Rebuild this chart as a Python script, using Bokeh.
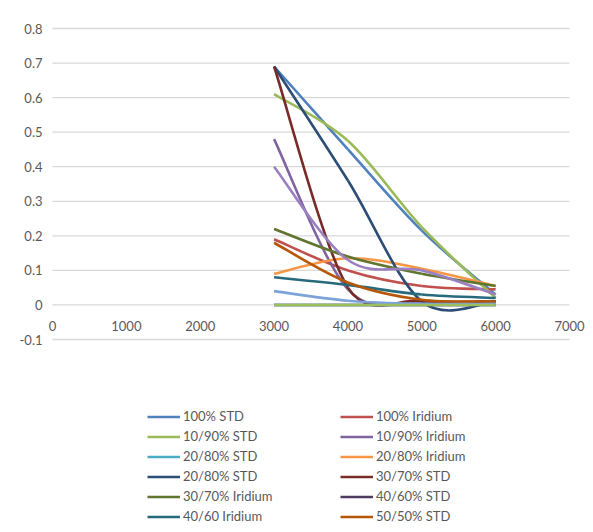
import math
from bokeh.plotting import figure
from bokeh.models import Legend, LegendItem, ColumnDataSource, Range1d
from bokeh.core.properties import value
from bokeh.embed import file_html
from bokeh.resources import INLINE

# ---- data ----
x_vals = [3000, 4000, 5000, 6000]

std_100 = [0.69, 0.45, 0.215, 0.03]
iridium_100 = [0.19, 0.10, 0.055, 0.045]
std_10_90 = [0.61, 0.475, 0.225, 0.02]
iridium_10_90 = [0.48, 0.045, 0.008, 0.008]
std_20_80_a = [0.0, 0.0, 0.0, 0.0]
iridium_20_80 = [0.09, 0.135, 0.105, 0.055]
std_20_80_b = [0.69, 0.36, 0.01, 0.01]
std_30_70 = [0.69, 0.05, 0.012, 0.01]
iridium_30_70 = [0.22, 0.14, 0.09, 0.055]
std_40_60 = [0.0, 0.0, 0.0, 0.0]
iridium_40_60 = [0.08, 0.058, 0.03, 0.02]
std_50_50 = [0.18, 0.065, 0.015, 0.01]
series_13 = [0.04, 0.012, 0.003, 0.003]
series_15 = [0.0, 0.0, 0.0, 0.0]
series_16 = [0.40, 0.13, 0.10, 0.03]

names = ["100% STD", "100% Iridium", "10/90% STD", "10/90% Iridium",
         "20/80% STD", "20/80% Iridium", "20/80% STD", "30/70% STD",
         "30/70% Iridium", "40/60% STD", "40/60 Iridium", "50/50% STD",
         None, None, None]
series = [std_100, iridium_100, std_10_90, iridium_10_90, std_20_80_a,
          iridium_20_80, std_20_80_b, std_30_70, iridium_30_70, std_40_60,
          iridium_40_60, std_50_50, series_13, series_15, series_16]
colors = ["#4F81BD", "#C0504D", "#9BBB59", "#8064A2", "#4BACC6", "#F79646",
          "#2C4D75", "#772C2A", "#5F7530", "#4D3B62", "#276A7C", "#B65708",
          "#7CA3D8", "#9BBF5F", "#9A80C0"]

x_ticks = [0, 1000, 2000, 3000, 4000, 5000, 6000, 7000]
x_tick_labels = ["0", "1000", "2000", "3000", "4000", "5000", "6000", "7000"]
y_ticks = [-0.1, 0, 0.1, 0.2, 0.3, 0.4, 0.5, 0.6, 0.7, 0.8]
y_tick_labels = ["-0.1", "0", "0.1", "0.2", "0.3", "0.4", "0.5", "0.6",
                 "0.7", "0.8"]

FONT = "Lato"
FSIZE = "13px"
TXT = "#595959"

# ---- layout (pixels) ----
W, H = 585, 524
PX_L, PX_R = 52, 569        # x = 0 .. 7000
PX_T, PX_B = 28, 339        # y = 0.8 .. -0.1
XMIN, XMAX = x_ticks[0], x_ticks[-1]
YMIN, YMAX = y_ticks[0], y_ticks[-1]
sx = (XMAX - XMIN) / (PX_R - PX_L)
sy = (YMAX - YMIN) / (PX_B - PX_T)
x_range = Range1d(XMIN - PX_L * sx, XMAX + (W - PX_R) * sx)
y_range = Range1d(YMIN - (H - PX_B) * sy, YMAX + PX_T * sy)


def smooth_segments(xs, ys):
    """Excel-like smoothed line: Bezier segments, arm capped at half chord."""
    n = len(xs)

    def plen(dx, dy):
        return math.hypot(dx / sx, dy / sy)

    d = dict(x0=[], y0=[], x1=[], y1=[], cx0=[], cy0=[], cx1=[], cy1=[])
    for i in range(n - 1):
        a = i - 1 if i > 0 else i
        b = i + 2 if i + 2 < n else i + 1
        chord = plen(xs[i + 1] - xs[i], ys[i + 1] - ys[i])
        vx, vy = xs[i + 1] - xs[a], ys[i + 1] - ys[a]
        L = plen(vx, vy)
        f = 1 / 6.0
        if L > 0 and L / 6.0 > chord / 2.0:
            f = (chord / 2.0) / L
        cx0, cy0 = xs[i] + vx * f, ys[i] + vy * f
        vx, vy = xs[b] - xs[i], ys[b] - ys[i]
        L = plen(vx, vy)
        f = 1 / 6.0
        if L > 0 and L / 6.0 > chord / 2.0:
            f = (chord / 2.0) / L
        cx1, cy1 = xs[i + 1] - vx * f, ys[i + 1] - vy * f
        d["x0"].append(xs[i]); d["y0"].append(ys[i])
        d["x1"].append(xs[i + 1]); d["y1"].append(ys[i + 1])
        d["cx0"].append(cx0); d["cy0"].append(cy0)
        d["cx1"].append(cx1); d["cy1"].append(cy1)
    return d


p = figure(width=W, height=H, output_backend="svg", toolbar_location=None,
           x_range=x_range, y_range=y_range,
           x_axis_location=None, y_axis_location=None, min_border=0)
p.outline_line_color = None
p.background_fill_color = "white"
p.border_fill_color = "white"
p.grid.visible = False

# gridlines spanning the x axis range
p.segment(x0=[XMIN] * len(y_ticks), x1=[XMAX] * len(y_ticks),
          y0=y_ticks, y1=y_ticks, line_color="#D9D9D9", line_width=1.3)

# tick labels
p.text(x=[XMIN] * len(y_ticks), y=y_ticks, text=y_tick_labels,
       x_offset=-10, text_align="right", text_baseline="middle",
       text_font=value(FONT), text_font_size=FSIZE, text_color=TXT)
p.text(x=x_ticks, y=[0] * len(x_ticks), text=x_tick_labels,
       y_offset=21, text_align="center", text_baseline="middle",
       text_font=value(FONT), text_font_size=FSIZE, text_color=TXT)

renderers = []
for ys, col in zip(series, colors):
    src = ColumnDataSource(smooth_segments(x_vals, ys))
    r = p.bezier(x0="x0", y0="y0", x1="x1", y1="y1", cx0="cx0", cy0="cy0",
                 cx1="cx1", cy1="cy1", source=src, line_color=col,
                 line_width=2.6)
    renderers.append(r)


def make_legend(idx, x):
    items = [LegendItem(label=names[i], renderers=[renderers[i]]) for i in idx]
    return Legend(items=items, location=(x, 0), orientation="vertical",
                  glyph_width=33, glyph_height=15, label_height=15,
                  spacing=4, padding=0, margin=0, label_standoff=3,
                  border_line_color=None, background_fill_alpha=0,
                  label_text_font=FONT, label_text_font_size=FSIZE,
                  label_text_color=TXT)


p.add_layout(make_legend([0, 2, 4, 6, 8, 10], 147))
p.add_layout(make_legend([1, 3, 5, 7, 9, 11], 340))

open("out.html", "w").write(file_html(p, INLINE))
